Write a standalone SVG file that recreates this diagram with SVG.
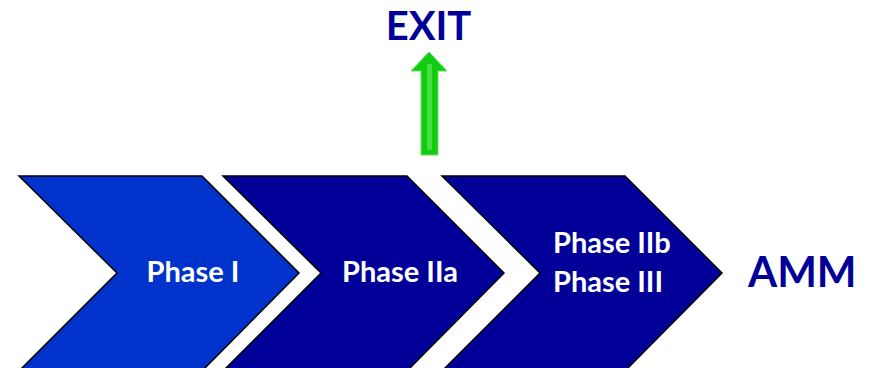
<svg xmlns="http://www.w3.org/2000/svg" width="872" height="368" viewBox="0 0 872 368">
<style>
.chev{stroke:#000;stroke-width:1.5;stroke-linejoin:miter}
.lbl{font-family:Lato,"Open Sans",sans-serif;font-weight:bold;fill:#fff;font-size:29px}
.big{font-family:Lato,"Open Sans",sans-serif;font-weight:bold;fill:#000099}
</style>
<rect width="872" height="368" fill="#fff"/>
<g id="phase1">
<polygon class="chev" fill="#0033CC" points="19,176 202,176 299,273 202,371 19,371 117,273"/>
<text class="lbl" x="193" y="282" text-anchor="middle">Phase I</text>
</g>
<g id="phase2a">
<polygon class="chev" fill="#000099" points="223,176 407,176 504,273 407,371 223,371 321,273"/>
<text class="lbl" x="400" y="282" text-anchor="middle">Phase IIa</text>
</g>
<g id="phase2b3">
<polygon class="chev" fill="#000099" points="442,176 625,176 722,273 625,371 442,371 540,273"/>
<text class="lbl" x="553" y="253">Phase IIb</text>
<text class="lbl" x="553" y="292">Phase III</text>
</g>
<g id="amm">
<text class="big" x="748" y="287" font-size="42">AMM</text>
</g>
<g id="exit">
<text class="big" x="428.5" y="40" font-size="40" text-anchor="middle">EXIT</text>
</g>
<g id="connectors">
<polygon fill="#11CC11" stroke="#66DD66" stroke-width="1" points="429,52 447,71 438,71 438,155 421,155 421,71 411,71"/>
<line x1="429.5" y1="64" x2="429.5" y2="150" stroke="#44DD44" stroke-width="5"/>
</g>
</svg>
